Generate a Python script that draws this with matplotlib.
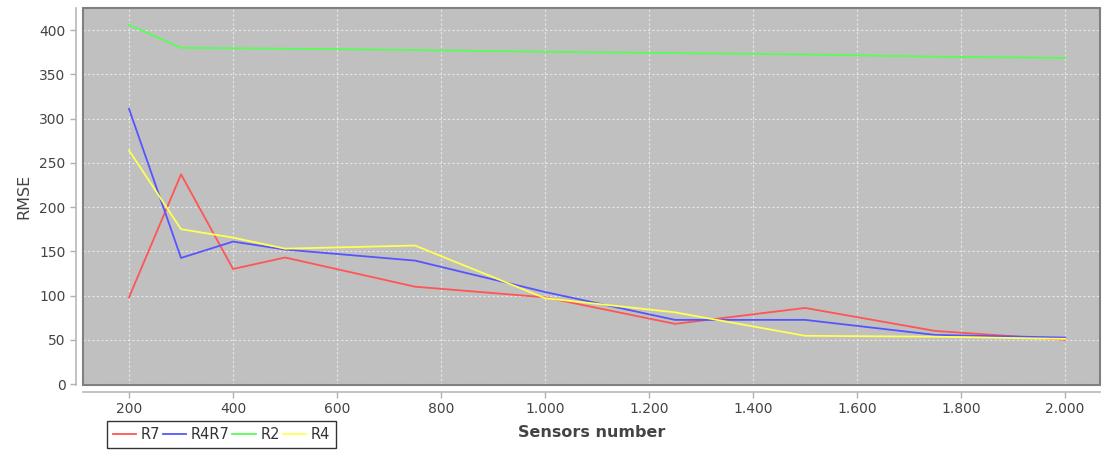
import matplotlib
matplotlib.use('Agg')
import matplotlib.pyplot as plt
import matplotlib.ticker as mticker
from matplotlib.patches import Rectangle

sensors = [200, 300, 400, 500, 750, 1000, 1250, 1500, 1750, 2000]
r7 = [98, 237, 130, 143, 110, 98, 68, 86, 60, 50]
r4r7 = [311, 142.5, 161, 152, 139.5, 104, 72.5, 72.5, 55.5, 52.5]
r2 = [406, 380, 379.5, 379, 377.5, 375.5, 374, 372.5, 370, 368.5]
r4 = [264, 175, 165.5, 153, 156.5, 97, 81, 54.5, 53.5, 51]

series = [('R7', r7, '#ff5555'), ('R4R7', r4r7, '#5555ff'),
          ('R2', r2, '#55ff55'), ('R4', r4, '#ffff55')]

W, H = 1103, 450
fig = plt.figure(figsize=(W / 100, H / 100), dpi=100)
left, right, top, bottom = 83, 1100, 8, 385
ax = fig.add_axes([left / W, 1 - bottom / H, (right - left) / W, (bottom - top) / H])
ax.set_facecolor('#c0c0c0')

for name, vals, col in series:
    ax.plot(sensors, vals, color=col, lw=1.3, label=name)

ax.set_xlim(111.5, 2067)
ax.set_ylim(-1.1, 425)
ax.set_xticks([200, 400, 600, 800, 1000, 1200, 1400, 1600, 1800, 2000])
ax.set_yticks(range(0, 401, 50))
ax.xaxis.set_major_formatter(mticker.FuncFormatter(lambda v, p: f'{int(v):,}'.replace(',', '.')))
ax.grid(True, color='#e8e8e8', ls=(0, (2, 2)), lw=0.8)
ax.set_axisbelow(True)

# plot border
ax.add_patch(Rectangle((0, 0), 1, 1, transform=ax.transAxes, fill=False,
                       edgecolor='#808080', lw=1.5, clip_on=False, zorder=5))
for s in ['top', 'right']:
    ax.spines[s].set_visible(False)
for s in ['left', 'bottom']:
    ax.spines[s].set_position(('outward', 5))
    ax.spines[s].set_color('#b8b8b8')
    ax.spines[s].set_linewidth(1.2)

ax.tick_params(colors='#b0b0b0', labelcolor='#444444', labelsize=10, length=4, width=1)
ax.set_ylabel('RMSE', fontsize=11.5, color='#444444', labelpad=6)
ax.set_xlabel('Sensors number', fontsize=11.5, fontweight='bold', color='#444444', labelpad=6)

leg = fig.legend(loc='upper left', bbox_to_anchor=(107 / W, 1 - 421 / H), ncol=4,
                 frameon=True, fancybox=False, fontsize=10.5, handlelength=1.6,
                 handletextpad=0.3, columnspacing=0.2, borderpad=0.4,
                 borderaxespad=0)
leg.get_frame().set_edgecolor('black')
leg.get_frame().set_linewidth(1)
for t in leg.get_texts():
    t.set_color('#333333')

plt.savefig('out.png', dpi=100)
